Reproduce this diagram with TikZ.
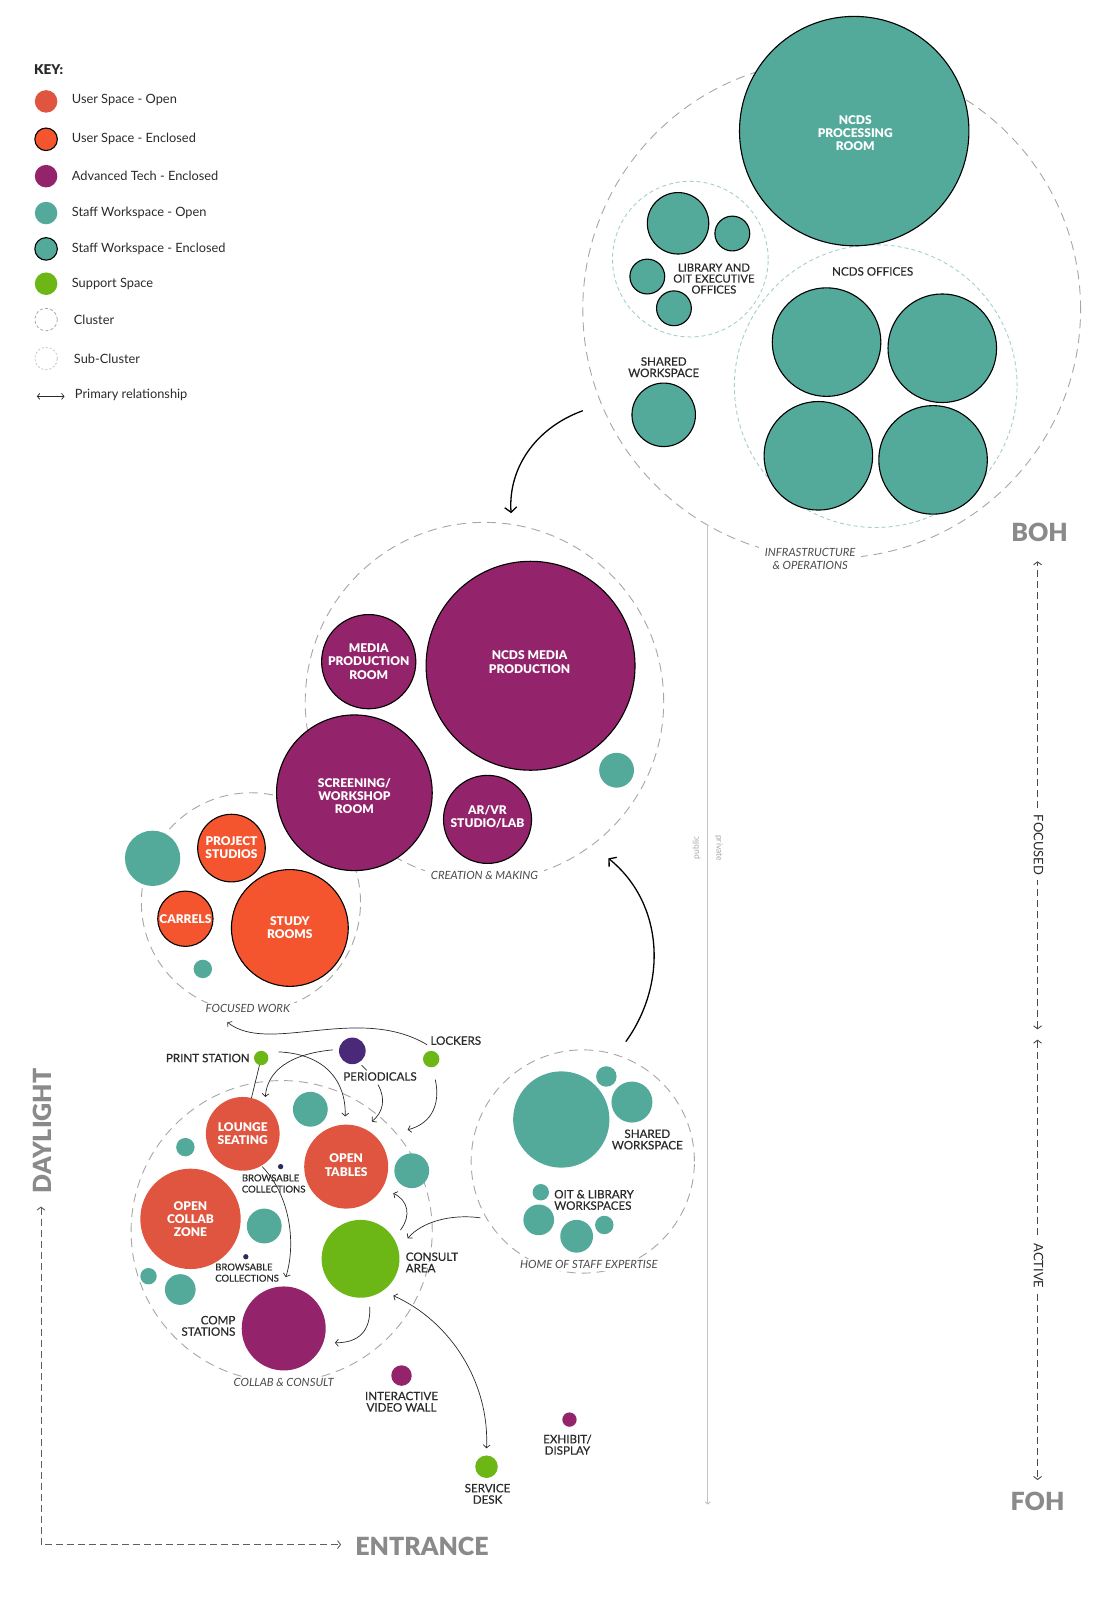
\documentclass[tikz,border=0pt]{standalone}
\usepackage{fontspec}
\setmainfont{Lato}
\newfontfamily\latoblack{Lato Black}
\newfontfamily\latomed{Lato}[FakeBold=0.5]
\usetikzlibrary{arrows.meta}
\definecolor{uopen}{HTML}{E0553F}
\definecolor{uencl}{HTML}{F4552E}
\definecolor{advc}{HTML}{93236A}
\definecolor{stfc}{HTML}{53A99A}
\definecolor{supc}{HTML}{6CB616}
\definecolor{perc}{HTML}{4A2A78}
\definecolor{dotc}{HTML}{2E2A5E}
\definecolor{clusc}{HTML}{A6A6A6}
\definecolor{subcc}{HTML}{A3D0CA}
\definecolor{axisc}{HTML}{8A8A8A}
\definecolor{txtc}{HTML}{2A2A2A}
\definecolor{pubc}{HTML}{C4C4C4}
\begin{document}
\begin{tikzpicture}[x=1.0242pt,y=-1.0242pt,
  bub/.style={circle,inner sep=0pt,outer sep=0pt,minimum size=#1*2.0484pt},
  useropen/.style={fill=uopen},
  userencl/.style={fill=uencl,draw=black,line width=1.1pt},
  advtech/.style={fill=advc},
  advencl/.style={fill=advc,draw=black,line width=1.1pt},
  staffopen/.style={fill=stfc},
  staffencl/.style={fill=stfc,draw=black,line width=1.1pt},
  support/.style={fill=supc},
  cluster/.style={draw=clusc,line width=0.9pt,dash pattern=on 9pt off 6pt},
  subcluster/.style={draw=subcc,line width=0.9pt,dash pattern=on 4pt off 3pt},
  wlab/.style={text=white,font=\latoblack\fontsize{12}{13.2}\selectfont,align=center,inner sep=0pt},
  dlab/.style={text=txtc,font=\latomed\fontsize{11.6}{11.4}\selectfont,align=center,inner sep=0pt},
  slab/.style={text=txtc,font=\latomed\fontsize{9.5}{11.2}\selectfont,align=left,inner sep=0pt},
  clab/.style={text=txtc!85,font=\fontsize{11.3}{13}\selectfont\itshape,align=center,fill=white,inner xsep=6pt,inner ysep=2pt},
  keytext/.style={text=txtc,font=\fontsize{12.8}{14}\selectfont,anchor=west,inner sep=0pt},
  bigaxis/.style={text=axisc,font=\latoblack\fontsize{25}{28}\selectfont,inner sep=0pt},
  mainarrow/.style={draw=black,line width=1.3pt,-{Straight Barb[length=5pt,width=12pt]}},
  rel/.style={draw=txtc,line width=0.7pt,-{Straight Barb[length=3pt,width=7pt]}},
  relboth/.style={draw=txtc,line width=0.7pt,{Straight Barb[length=3pt,width=7pt]}-{Straight Barb[length=3pt,width=7pt]}},
  relplain/.style={draw=txtc,line width=0.7pt},
  axisarrow/.style={draw=txtc!85,line width=0.9pt,dash pattern=on 7pt off 4pt,{Straight Barb[length=3pt,width=8pt]}-{Straight Barb[length=3pt,width=8pt]}},
  axistxt/.style={rotate=-90,fill=white,text=txtc,font=\fontsize{13}{14}\selectfont,inner xsep=5pt,inner ysep=1pt}
]
\useasboundingbox (0,0) rectangle (1074,1568);

% ---------------- KEY ----------------
\node[keytext,font=\latoblack\fontsize{13.5}{15}\selectfont] (keyhd) at (33,68) {KEY:};
\node[bub=11,useropen] (k1) at (45,99) {};
\node[keytext] (k1t) at (70,98) {User Space - Open};
\node[bub=11,userencl] (k2) at (45,136) {};
\node[keytext] (k2t) at (70,136) {User Space - Enclosed};
\node[bub=11,advtech] (k3) at (45,172) {};
\node[keytext] (k3t) at (70,172) {Advanced Tech - Enclosed};
\node[bub=11,staffopen] (k4) at (45,208) {};
\node[keytext] (k4t) at (70,208) {Staff Workspace - Open};
\node[bub=11,staffencl] (k5) at (45,243) {};
\node[keytext] (k5t) at (70,243) {Staff Workspace - Enclosed};
\node[bub=11,support] (k6) at (45,277) {};
\node[keytext] (k6t) at (70,277) {Support Space};
\node[bub=11,draw=clusc,line width=0.8pt,dash pattern=on 3pt off 2.2pt] (k7) at (45,312) {};
\node[keytext] (k7t) at (72,312) {Cluster};
\node[bub=11,draw=clusc!70,line width=0.8pt,dash pattern=on 2pt off 2pt] (k8) at (45,350) {};
\node[keytext] (k8t) at (72,350) {Sub-Cluster};
\coordinate (k9a) at (36,387);
\coordinate (k9b) at (63,387);
\draw[line width=0.7pt,draw=txtc,{Straight Barb[length=2.5pt,width=6pt]}-{Straight Barb[length=2.5pt,width=6pt]}] (k9a) -- (k9b);
\node[keytext] (k9t) at (73,386) {Primary relationship};

% ---------------- INFRASTRUCTURE ----------------
\node[bub=243,cluster] (infra) at (812,302) {};
\node[bub=76,subcluster] (libsub) at (674,253) {};
\node[bub=138,subcluster] (offsub) at (855,377) {};
\node[bub=112,staffencl] (proc) at (834,128) {};
\node[wlab] (proct) at (835,130) {NCDS\\PROCESSING\\ROOM};
\node[bub=30,staffencl] (lib1) at (662,218) {};
\node[bub=17,staffencl] (lib2) at (715,228) {};
\node[bub=17,staffencl] (lib3) at (632,270) {};
\node[bub=17,staffencl] (lib4) at (658,301) {};
\node[dlab,font=\latomed\fontsize{11.2}{11}\selectfont] (libt) at (697,272) {LIBRARY AND\\OIT EXECUTIVE\\OFFICES};
\node[dlab] (offt) at (852,265) {NCDS OFFICES};
\node[bub=53,staffencl] (off1) at (807,334) {};
\node[bub=53,staffencl] (off2) at (920,340) {};
\node[bub=53,staffencl] (off3) at (799,445) {};
\node[bub=53,staffencl] (off4) at (911,449) {};
\node[dlab] (swt) at (648,358.5) {SHARED\\WORKSPACE};
\node[bub=31,staffencl] (sw) at (648,405) {};
\node[clab] (infralab) at (791,545.5) {INFRASTRUCTURE\\\& OPERATIONS};

% ---------------- CREATION & MAKING ----------------
\node[bub=175,cluster] (create) at (473,685) {};
\node[bub=102,advencl] (ncdsmp) at (518,650) {};
\node[wlab] (ncdsmpt) at (517,646.5) {NCDS MEDIA\\PRODUCTION};
\node[bub=46,advencl] (mpr) at (360,646) {};
\node[wlab] (mprt) at (360,646) {MEDIA\\PRODUCTION\\ROOM};
\node[bub=17,staffopen] (cm1) at (602,752) {};
\node[clab] (createlab) at (473,855) {CREATION \& MAKING};

% ---------------- FOCUSED WORK ----------------
\node[bub=107,cluster] (focus) at (245,881) {};
\node[bub=76,advencl] (scr) at (346,774) {};
\node[wlab] (scrt) at (346,777) {SCREENING/\\WORKSHOP\\ROOM};
\node[bub=43,advencl] (arvr) at (476,800) {};
\node[wlab] (arvrt) at (476,797.5) {AR/VR\\STUDIO/LAB};
\node[bub=27,staffopen] (fw1) at (149,838) {};
\node[bub=33,userencl] (proj) at (226,828) {};
\node[wlab] (projt) at (226,827.5) {PROJECT\\STUDIOS};
\node[bub=27,userencl] (carr) at (181,897) {};
\node[wlab] (carrt) at (181,897) {CARRELS};
\node[bub=57,userencl] (study) at (283,906) {};
\node[wlab] (studyt) at (283,906) {STUDY\\ROOMS};
\node[bub=9,staffopen] (fw2) at (198,946) {};
\node[clab] (focuslab) at (242,985) {FOCUSED WORK};

% ---------------- COLLAB & CONSULT ----------------
\node[bub=147,cluster] (collab) at (275,1202) {};
\node[bub=36,useropen] (lounge) at (237,1107) {};
\node[wlab] (loungt) at (237,1106.5) {LOUNGE\\SEATING};
\node[bub=41,useropen] (opentab) at (338,1139) {};
\node[wlab] (opentabt) at (338,1137.5) {OPEN\\TABLES};
\node[bub=49,useropen] (ocz) at (186,1190) {};
\node[wlab] (oczt) at (186,1190) {OPEN\\COLLAB\\ZONE};
\node[bub=38,support] (consult) at (352,1229) {};
\node[dlab,align=left,anchor=west] (consultt) at (396,1232.5) {CONSULT\\AREA};
\node[bub=41,advtech] (comp) at (277,1297) {};
\node[dlab,align=right,anchor=east] (compt) at (230,1294.5) {COMP\\STATIONS};
\node[bub=17,staffopen] (cc1) at (303,1083) {};
\node[bub=9,staffopen] (cc2) at (181,1120) {};
\node[bub=17,staffopen] (cc3) at (258,1197) {};
\node[bub=17,staffopen] (cc4) at (402,1143) {};
\node[bub=8,staffopen] (cc5) at (145,1246) {};
\node[bub=15,staffopen] (cc6) at (176,1259) {};
\node[bub=2.6,fill=dotc] (bc1) at (274,1139) {};
\node[slab,anchor=west] (bc1t) at (236,1155.5) {BROWSABLE\\COLLECTIONS};
\node[bub=2.6,fill=dotc] (bc2) at (240,1227) {};
\node[slab,anchor=west] (bc2t) at (210,1242.5) {BROWSABLE\\COLLECTIONS};
\node[clab] (collablab) at (277,1350) {COLLAB \& CONSULT};

% support items
\node[bub=13,fill=perc] (peri) at (344,1026) {};
\node[dlab] (perit) at (371,1051) {PERIODICALS};
\node[bub=7,support] (print) at (255,1033) {};
\node[dlab,anchor=east] (printt) at (244,1033) {PRINT STATION};
\node[bub=8,support] (lock) at (421,1034) {};
\node[dlab] (lockt) at (445,1016) {LOCKERS};
\node[bub=10,advtech] (ivw) at (392,1343) {};
\node[dlab] (ivwt) at (392,1368.5) {INTERACTIVE\\VIDEO WALL};
\node[bub=7,advtech] (exh) at (556,1386) {};
\node[dlab] (exht) at (554,1410.5) {EXHIBIT/\\DISPLAY};
\node[bub=11,support] (sdesk) at (475,1432) {};
\node[dlab] (sdeskt) at (476,1458.5) {SERVICE\\DESK};

% ---------------- HOME OF STAFF EXPERTISE ----------------
\node[bub=109,cluster] (home) at (569,1134) {};
\node[bub=47,staffopen] (h1) at (548,1093) {};
\node[bub=10,staffopen] (h2) at (592,1051) {};
\node[bub=20,staffopen] (h3) at (617,1076) {};
\node[dlab] (h3t) at (632,1112.5) {SHARED\\WORKSPACE};
\node[bub=8,staffopen] (h4) at (528,1164) {};
\node[bub=15,staffopen] (h5) at (526,1191) {};
\node[bub=16,staffopen] (h6) at (563,1207) {};
\node[bub=9,staffopen] (h7) at (590,1196) {};
\node[dlab,align=left] (h4t) at (580,1171.5) {OIT \& LIBRARY\\WORKSPACES};
\node[clab] (homelab) at (575,1235) {HOME OF STAFF EXPERTISE};

% ---------------- MAIN ARROWS ----------------
\coordinate (m1s) at (569,401);
\coordinate (m1e) at (499,501);
\draw[mainarrow] (m1s) .. controls (522,418) and (496,458) .. (m1e);
\coordinate (m2s) at (611,1017);
\coordinate (m2e) at (594,838);
\draw[mainarrow] (m2s) .. controls (652,960) and (648,882) .. (m2e);

% ---------------- SMALL RELATIONS ----------------
\coordinate (r1s) at (417,1020);
\coordinate (r1e) at (222,998);
\draw[rel] (r1s) .. controls (350,980) and (262,1030) .. (r1e);
\coordinate (r2s) at (325,1025);
\coordinate (r2e) at (259,1071);
\draw[rel] (r2s) .. controls (282,1029) and (261,1046) .. (r2e);
\coordinate (r3s) at (272,1027);
\coordinate (r3e) at (337,1090);
\draw[rel] (r3s) .. controls (318,1029) and (338,1056) .. (r3e);
\coordinate (r4s) at (369,1059);
\coordinate (r4e) at (363,1095);
\draw[rel] (r4s) .. controls (377,1073) and (374,1086) .. (r4e);
\coordinate (r5s) at (425,1054);
\coordinate (r5e) at (398,1103);
\draw[rel] (r5s) .. controls (431,1082) and (418,1098) .. (r5e);
\draw[relplain] (print) -- (lounge);
\coordinate (r7s) at (256,1139);
\coordinate (r7e) at (279,1247);
\draw[rel] (r7s) .. controls (284,1168) and (289,1215) .. (r7e);
\coordinate (r8s) at (391,1201);
\coordinate (r8e) at (384,1165);
\draw[rel] (r8s) .. controls (402,1186) and (398,1172) .. (r8e);
\coordinate (r9s) at (469,1189);
\coordinate (r9e) at (398,1209);
\draw[rel] (r9s) .. controls (440,1185) and (412,1193) .. (r9e);
\coordinate (r10s) at (361,1276);
\coordinate (r10e) at (327,1311);
\draw[rel] (r10s) .. controls (362,1300) and (350,1311) .. (r10e);
\coordinate (r11s) at (384,1265);
\coordinate (r11e) at (475,1414);
\draw[relboth] (r11s) .. controls (440,1290) and (478,1350) .. (r11e);
\coordinate (pl1) at (353,1040);
\coordinate (pl2) at (358,1045);
\draw[relplain] (pl1) -- (pl2);

% ---------------- PUBLIC / PRIVATE ----------------
\coordinate (pp1) at (691,514);
\coordinate (pp2) at (691,1469);
\draw[draw=pubc,line width=1pt,-{Straight Barb[length=2pt,width=5pt]}] (pp1) -- (pp2);
\node[rotate=90,text=pubc!85!black,font=\fontsize{8.5}{10}\selectfont,inner sep=0pt] (pub) at (680,828) {public};
\node[rotate=-90,text=pubc!85!black,font=\fontsize{8.5}{10}\selectfont,inner sep=0pt] (priv) at (702,828) {private};

% ---------------- RIGHT AXIS ----------------
\coordinate (ax1) at (1013,548);
\coordinate (ax2) at (1013,1005);
\coordinate (ax3) at (1013,1015);
\coordinate (ax4) at (1013,1445);
\draw[axisarrow] (ax2) -- (ax1);
\draw[axisarrow] (ax3) -- (ax4);
\node[axistxt] (focusedt) at (1014,825) {FOCUSED};
\node[axistxt] (activet) at (1014,1236) {ACTIVE};
\node[bigaxis] (boh) at (1015,520) {BOH};
\node[bigaxis] (foh) at (1013,1466) {FOH};

% ---------------- LEFT AXIS ----------------
\coordinate (dl1) at (40,1178);
\coordinate (dl2) at (40,1508);
\coordinate (dl3) at (333,1508);
\draw[draw=txtc!75,line width=0.9pt,dash pattern=on 7pt off 4pt,{Straight Barb[length=3pt,width=8pt]}-{Straight Barb[length=3pt,width=8pt]}] (dl1) -- (dl2) -- (dl3);
\node[bigaxis,rotate=90] (dayl) at (41,1104) {DAYLIGHT};
\node[bigaxis] (entr) at (412,1510) {ENTRANCE};
\end{tikzpicture}
\end{document}
